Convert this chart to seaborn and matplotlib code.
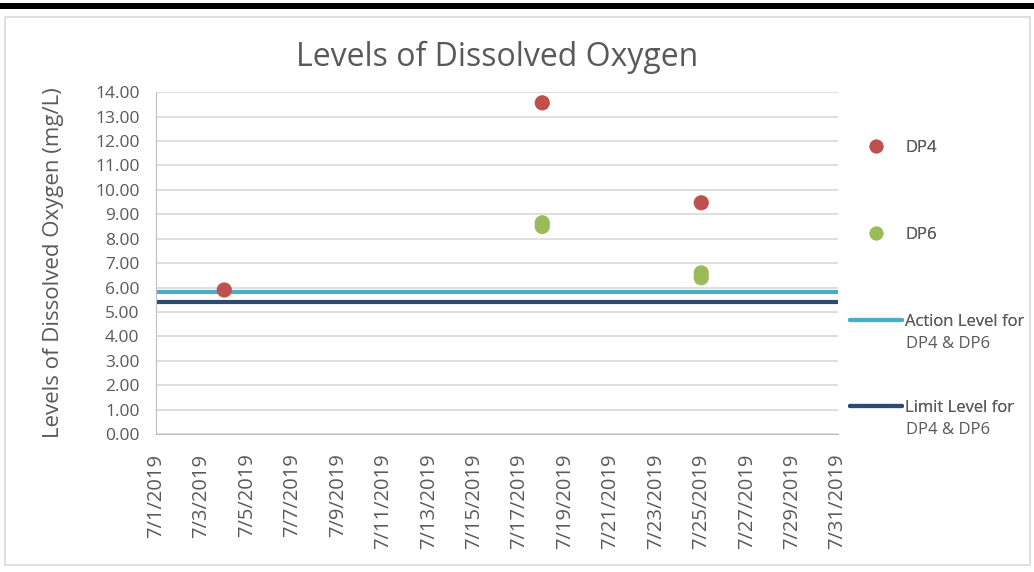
import pandas as pd
import matplotlib.pyplot as plt
import matplotlib.dates as mdates
import seaborn as sb
from matplotlib.lines import Line2D
from matplotlib.patches import Rectangle

dp4_dates = ['2019-07-04', '2019-07-18', '2019-07-25']
dp4_values = [5.90, 13.56, 9.47]
dp6_dates = ['2019-07-18', '2019-07-18', '2019-07-25', '2019-07-25']
dp6_values = [8.65, 8.50, 6.60, 6.40]
level_dates = ['2019-07-01', '2019-07-31']
action_level = 5.8
limit_level = 5.4
yticks = [0, 1, 2, 3, 4, 5, 6, 7, 8, 9, 10, 11, 12, 13, 14]

red = '#C0504D'
green = '#9BBB59'
cyan = '#4BACC6'
navy = '#2C4A72'
grey = '#595959'

pts = pd.DataFrame({
    'date': pd.to_datetime(dp4_dates + dp6_dates),
    'value': dp4_values + dp6_values,
    'site': ['DP4'] * len(dp4_dates) + ['DP6'] * len(dp6_dates),
})
lev = pd.DataFrame({
    'date': pd.to_datetime(level_dates * 2),
    'value': [action_level] * 2 + [limit_level] * 2,
    'kind': ['Action'] * 2 + ['Limit'] * 2,
})

sb.set_style('white')
plt.rcParams['font.family'] = ['Open Sans', 'DejaVu Sans']
fig = plt.figure(figsize=(10.34, 5.72), dpi=100)
ax = fig.add_axes([0.151, 0.241, 0.659, 0.598])

# chart frame like the spreadsheet export
fig.patches.append(Rectangle((0.005, 0.012), 0.991, 0.958, transform=fig.transFigure,
                             fill=False, edgecolor='#D9D9D9', lw=1.2))
fig.patches.append(Rectangle((0.0, 0.984), 1.0, 0.01, transform=fig.transFigure,
                             color='black', lw=0))

sb.lineplot(data=lev, x='date', y='value', hue='kind', palette=[cyan, navy],
            lw=3, legend=False, ax=ax, zorder=2)
sb.scatterplot(data=pts, x='date', y='value', hue='site', palette=[red, green],
               s=120, edgecolor='none', legend=False, ax=ax, zorder=3)

ax.set_xlim(pd.Timestamp('2019-07-01'), pd.Timestamp('2019-07-31'))
ax.set_ylim(0, 14)
ax.set_yticks(yticks)
ax.set_yticklabels([f'{v:.2f}' for v in yticks])
ax.xaxis.set_major_locator(mdates.DayLocator(bymonthday=range(1, 32, 2)))
ax.xaxis.set_major_formatter(mdates.DateFormatter('%-m/%-d/%Y'))
plt.setp(ax.get_xticklabels(), rotation=90)
ax.tick_params(axis='y', labelsize=12.5, colors=grey, length=0, pad=12)
ax.tick_params(axis='x', labelsize=14.5, colors=grey, length=0, pad=14)
ax.grid(axis='y', color='#D9D9D9', lw=1.2)
ax.set_axisbelow(True)
for s in ['top', 'right']:
    ax.spines[s].set_visible(False)
ax.spines['left'].set_color('#BFBFBF')
ax.spines['bottom'].set_color('#BFBFBF')
ax.set_xlabel('')
ax.set_ylabel('Levels of Dissolved Oxygen (mg/L)', fontsize=16, color=grey, labelpad=22)
ax.set_title('Levels of Dissolved Oxygen', fontsize=23, color=grey, pad=19)

handles = [
    Line2D([], [], ls='', marker='o', ms=9, color=red),
    Line2D([], [], ls='', marker='o', ms=9, color=green),
    Line2D([], [], color=cyan, lw=3),
    Line2D([], [], color=navy, lw=3),
]
labels = ['DP4', 'DP6', 'Action Level for', 'Limit Level for']
second = ['', '', 'DP4 & DP6', 'DP4 & DP6']
ys = [0.741, 0.589, 0.437, 0.287]
# one legend per entry so every entry gets the same slot like in Excel,
# handle sits on the first text line
for h, l, l2, y in zip(handles, labels, second, ys):
    leg = fig.legend([h], [l], loc='center left', bbox_to_anchor=(0.822, y),
                     frameon=False, fontsize=12, labelcolor=grey, borderpad=0,
                     borderaxespad=0, handlelength=3.1, handletextpad=0.2)
    fig.add_artist(leg)
    if l2:
        fig.text(0.8765, y - 0.038, l2, fontsize=12, color=grey, va='center')

plt.savefig('out.png', dpi=100)
